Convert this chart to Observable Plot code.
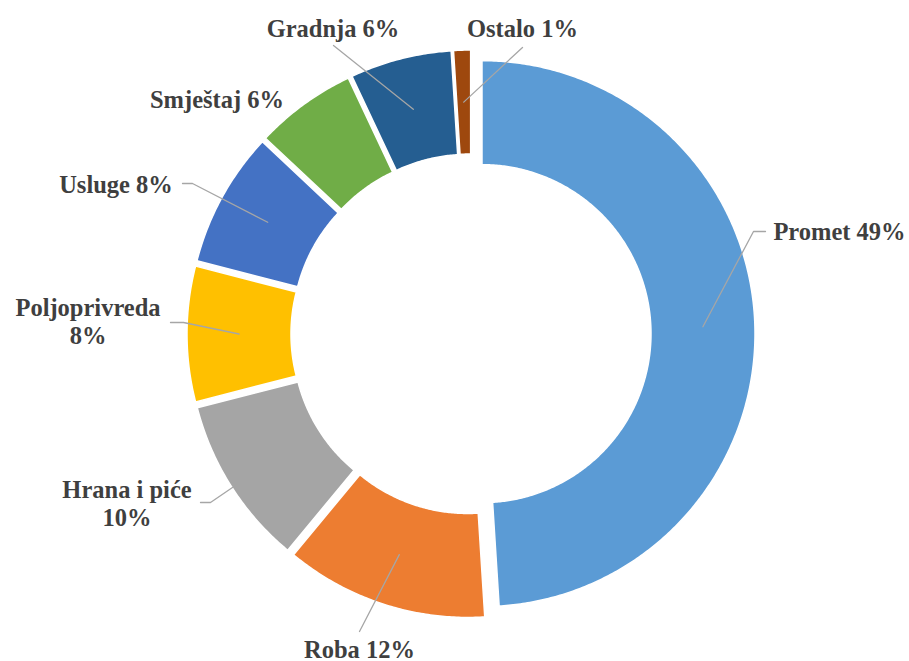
<!DOCTYPE html>
<html>
<head>
<meta charset="utf-8">
<script src="https://cdn.jsdelivr.net/npm/d3@7"></script>
<script src="https://cdn.jsdelivr.net/npm/@observablehq/plot@0.6"></script>
<style>
  html, body { margin: 0; padding: 0; background: #ffffff; }
  #chart svg { display: block; }
</style>
</head>
<body>
<div id="chart"></div>
<script>
// ---- data ----
const categories = ["Promet", "Roba", "Hrana i piće", "Poljoprivreda", "Usluge", "Smještaj", "Gradnja", "Ostalo"];
const shares = [49, 12, 10, 8, 8, 6, 6, 1];
const labelTexts = ["Promet 49%", "Roba 12%", "Hrana i piće\n10%", "Poljoprivreda\n8%", "Usluge 8%", "Smještaj 6%", "Gradnja 6%", "Ostalo 1%"];
const colors = ["#5B9BD5", "#ED7D31", "#A5A5A5", "#FFC000", "#4472C4", "#70AD47", "#255E91", "#9E480E"];

// ---- layout (pixels) ----
const W = 909, H = 661;
const cx = 470.5, cy = 333.5;
const R = 273, r = 169, explode = 11;
const labelPos = [[839, 239], [359, 657], [126.5, 525], [87.5, 343], [115.5, 192], [216.5, 107], [332.5, 36], [522, 36]];
const leaderStart = [[[765, 231], [753, 231]], [[359, 631]], [[200, 502], [210, 502]], [[170, 322], [183, 322]], [[182, 183], [192, 183]], null, [[333, 45]], [[522, 47]]];
const leaderReach = [1, 1, 0.34, 1, 1, 1, 1, 1];

// ---- geometry derived from data ----
const total = d3.sum(shares);
const slices = [];
const targets = [];
let cum = 0;
categories.forEach((name, i) => {
  const a0 = cum / total * 2 * Math.PI;
  const a1 = (cum + shares[i]) / total * 2 * Math.PI;
  cum += shares[i];
  const mid = (a0 + a1) / 2;
  const ox = explode * Math.sin(mid), oy = -explode * Math.cos(mid);
  const n = Math.max(4, Math.ceil((a1 - a0) / (Math.PI / 360)));
  for (let k = 0; k <= n; k++) {
    const a = a0 + (a1 - a0) * k / n;
    slices.push({name, x: cx + ox + R * Math.sin(a), y: cy + oy - R * Math.cos(a)});
  }
  for (let k = n; k >= 0; k--) {
    const a = a0 + (a1 - a0) * k / n;
    slices.push({name, x: cx + ox + r * Math.sin(a), y: cy + oy - r * Math.cos(a)});
  }
  const rm = (R + r) / 2;
  targets.push([cx + ox + rm * Math.sin(mid), cy + oy - rm * Math.cos(mid)]);
});

const leaders = [];
categories.forEach((name, i) => {
  const s = leaderStart[i];
  if (!s) return;
  const last = s[s.length - 1];
  const t = targets[i];
  const f = leaderReach[i];
  const end = [last[0] + (t[0] - last[0]) * f, last[1] + (t[1] - last[1]) * f];
  s.forEach(p => leaders.push({name, x: p[0], y: p[1]}));
  leaders.push({name, x: end[0], y: end[1]});
});

const labels = categories.map((name, i) => ({name, text: labelTexts[i], x: labelPos[i][0], y: labelPos[i][1]}));

const chart = Plot.plot({
  width: W,
  height: H,
  margin: 0,
  x: {domain: [0, W], range: [0, W], axis: null},
  y: {domain: [0, H], range: [0, H], axis: null},
  color: {domain: categories, range: colors},
  style: {background: "#ffffff"},
  marks: [
    Plot.line(slices, {x: "x", y: "y", z: "name", fill: "name", stroke: "white", strokeWidth: 1.5, curve: "linear-closed"}),
    Plot.line(leaders, {x: "x", y: "y", z: "name", stroke: "#A6A6A6", strokeWidth: 1.3}),
    Plot.text(labels, {
      x: "x", y: "y", text: "text",
      textAnchor: "middle", lineAnchor: "bottom", lineHeight: 1.12,
      fontFamily: "'Liberation Serif', 'Times New Roman', serif",
      fontWeight: "bold", fontSize: 24.5, fill: "#3F3F3F"
    })
  ]
});
document.getElementById("chart").appendChild(chart);
</script>
</body>
</html>
